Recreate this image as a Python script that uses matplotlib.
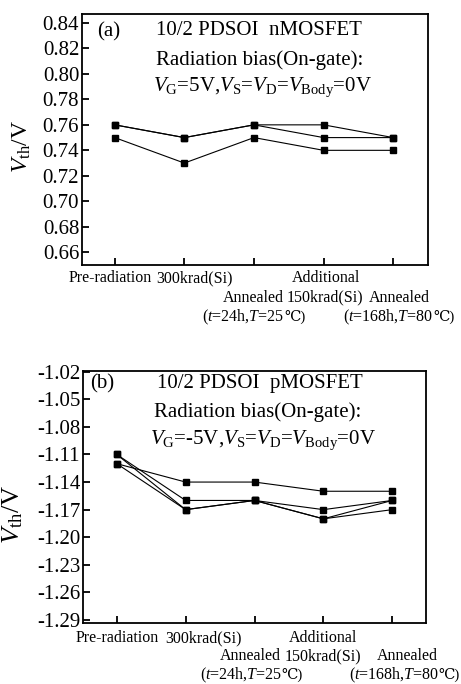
import matplotlib
matplotlib.use("Agg")
import matplotlib.pyplot as plt
import matplotlib.transforms as mtransforms

plt.rcParams['font.family'] = ['Liberation Serif', 'DejaVu Serif']
plt.rcParams['mathtext.fontset'] = 'custom'
plt.rcParams['mathtext.rm'] = 'Liberation Serif'
plt.rcParams['mathtext.it'] = 'Liberation Serif:italic'

stages = [0, 1, 2, 3, 4]
# x tick label lines: (line index, text, trailing plain-text part)
xlabels = [
    [(0, "Pre-radiation", "")],
    [(0, "300krad(Si)", "")],
    [(1, "Annealed", ""), (2, r"($\it{t}$=24h,$\it{T}$=25", "℃)")],
    [(0, "Additional", ""), (1, "150krad(Si)", "")],
    [(1, "Annealed", ""), (2, r"($\it{t}$=168h,$\it{T}$=80", "℃)")],
]

# Panel (a) nMOSFET
n_series = [
    [0.76, 0.75, 0.76, 0.76, 0.75],
    [0.76, 0.75, 0.76, 0.75, 0.75],
    [0.75, 0.73, 0.75, 0.74, 0.74],
]
n_yticks = [0.66, 0.68, 0.70, 0.72, 0.74, 0.76, 0.78, 0.80, 0.82, 0.84]

# Panel (b) pMOSFET
p_series = [
    [-1.12, -1.14, -1.14, -1.15, -1.15],
    [-1.11, -1.16, -1.16, -1.17, -1.16],
    [-1.11, -1.17, -1.16, -1.18, -1.16],
    [-1.12, -1.17, -1.16, -1.18, -1.17],
]
p_yticks = [-1.02, -1.05, -1.08, -1.11, -1.14, -1.17, -1.20, -1.23, -1.26, -1.29]

W, H = 461, 684
fig = plt.figure(figsize=(W / 100, H / 100), dpi=100)

def px_axes(l, r, t, b):
    return fig.add_axes([l / W, 1 - b / H, (r - l) / W, (b - t) / H])

ax1 = px_axes(82, 428, 14, 265)
ax2 = px_axes(83, 426, 371, 623)

def style(ax, yticks, fmt, ylim, xlim, label_size):
    for s in ax.spines.values():
        s.set_linewidth(1.3)
    ax.set_xlim(*xlim)
    ax.set_ylim(*ylim)
    ax.set_yticks(yticks)
    ax.set_yticklabels([fmt % v for v in yticks], fontsize=15)
    ax.set_xticks(stages)
    ax.set_xticklabels([])
    ax.tick_params(axis='both', direction='in', length=5, width=1.3, pad=2)
    ax.tick_params(top=False, right=False)
    ax.set_ylabel(r"$V_\mathrm{th}$/V", fontsize=label_size)

def draw_xlabels(ax, y0_px, ax_h_px, dx, line_px):
    trans = mtransforms.blended_transform_factory(ax.transData, ax.transAxes)
    for x, lines in zip(stages, xlabels):
        for li, txt, tail in lines:
            y = -(y0_px + li * line_px) / ax_h_px
            xx = x + dx.get((x, li), 0)
            if tail:
                t1 = ax.text(xx - 0.13, y, txt, transform=trans, ha='center', va='center',
                             fontsize=11.5)
                ax.annotate(tail, xy=(1, 0.5), xycoords=t1, ha='left', va='center',
                            fontsize=10.5, annotation_clip=False)
            else:
                ax.text(xx, y, txt, transform=trans, ha='center', va='center', fontsize=11.5)

# ---- panel (a)
style(ax1, n_yticks, "%.2f", (0.65, 0.847), (-0.47, 4.5), 17)
for s in n_series:
    ax1.plot(stages, s, color='black', lw=0.8, marker='s', ms=4.5, mfc='black', mec='black')
draw_xlabels(ax1, 13, 251,
             {(0, 0): -0.07, (1, 0): 0.14, (3, 0): 0.03,
              (2, 1): -0.01, (3, 1): 0.02, (4, 1): 0.09,
              (2, 2): -0.03, (4, 2): 0.06}, 19.5)
ax1.yaxis.set_label_coords(-0.142, 0.474)

ax1.text(0.043, 0.93, "(a)", transform=ax1.transAxes, fontsize=15, ha='left', va='center')
ax1.text(0.215, 0.935, "10/2 PDSOI  nMOSFET", transform=ax1.transAxes, fontsize=15, ha='left', va='center')
ax1.text(0.214, 0.815, "Radiation bias(On-gate):", transform=ax1.transAxes, fontsize=15, ha='left', va='center')
ax1.text(0.205, 0.71, r"$V_\mathrm{G}$=5V,$V_\mathrm{S}$=$V_\mathrm{D}$=$V_\mathrm{Body}$=0V",
         transform=ax1.transAxes, fontsize=15, ha='left', va='center')

# ---- panel (b)
style(ax2, p_yticks, "%.2f", (-1.2933, -1.0192), (-0.49, 4.49), 19)
for s in p_series:
    ax2.plot(stages, s, color='black', lw=0.8, marker='s', ms=4.5, mfc='black', mec='black')
draw_xlabels(ax2, 15, 252,
             {(0, 0): 0.01, (1, 0): 0.26, (3, 0): 0.0,
              (2, 1): -0.06, (3, 1): 0.0, (4, 1): 0.22,
              (2, 2): -0.07, (4, 2): 0.15}, 18.5)
ax2.yaxis.set_label_coords(-0.169, 0.429)

ax2.text(0.02, 0.95, "(b)", transform=ax2.transAxes, fontsize=15, ha='left', va='center')
ax2.text(0.215, 0.95, "10/2 PDSOI  pMOSFET", transform=ax2.transAxes, fontsize=15, ha='left', va='center')
ax2.text(0.207, 0.835, "Radiation bias(On-gate):", transform=ax2.transAxes, fontsize=15, ha='left', va='center')
ax2.text(0.195, 0.725, r"$V_\mathrm{G}$=-5V,$V_\mathrm{S}$=$V_\mathrm{D}$=$V_\mathrm{Body}$=0V",
         transform=ax2.transAxes, fontsize=15, ha='left', va='center')

fig.savefig("out.png", dpi=100)
